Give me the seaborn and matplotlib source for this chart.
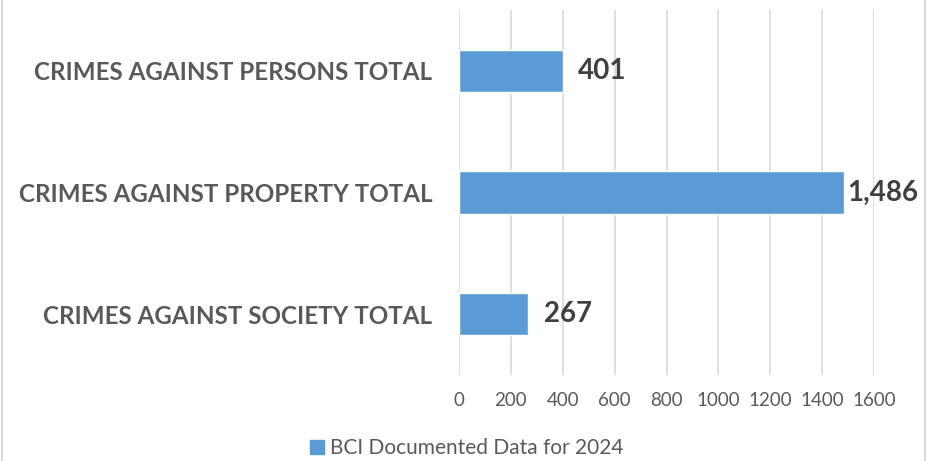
import matplotlib.pyplot as plt
import matplotlib.patches as mpatches
import matplotlib.lines as mlines
import seaborn as sns
import pandas as pd

categories = ['CRIMES AGAINST PERSONS TOTAL',
              'CRIMES AGAINST PROPERTY TOTAL',
              'CRIMES AGAINST SOCIETY TOTAL']
values = [401, 1486, 267]
series_name = 'BCI Documented Data for 2024'
x_ticks = [0, 200, 400, 600, 800, 1000, 1200, 1400, 1600]

df = pd.DataFrame({'category': categories, 'value': values, 'series': series_name})

sns.set_theme(style='white')
plt.rcParams['font.family'] = ['Lato', 'DejaVu Sans']

fig = plt.figure(figsize=(9.41, 4.61), dpi=100)
ax = fig.add_axes([459 / 941, 1 - 375 / 461, 415 / 941, 365 / 461])

sns.barplot(data=df, x='value', y='category', hue='series', orient='h',
            palette=['#5B9BD5'], saturation=1, width=0.35, ax=ax, legend=False)

ax.set_xlim(0, 1600)
ax.set_xticks(x_ticks)
ax.set_xticklabels([str(t) for t in x_ticks])
ax.grid(axis='x', color='#D9D9D9', linewidth=1.2)
ax.set_axisbelow(True)
for s in ax.spines.values():
    s.set_visible(False)
ax.set_xlabel('')
ax.set_ylabel('')
ax.tick_params(axis='x', length=0, pad=12, labelsize=13.5, labelcolor='#595959')
ax.tick_params(axis='y', length=0, pad=19)
for lbl in ax.get_yticklabels():
    lbl.set_fontsize(17.4)
    lbl.set_fontweight('bold')
    lbl.set_color('#595959')

for cont in ax.containers:
    anns = ax.bar_label(cont, labels=[f'{v:,}' for v in values], padding=11,
                        fontsize=20, fontweight='bold', color='#404040')
    # the longest label is pulled in so it stays inside the chart
    for ann, v in zip(anns, values):
        if v == max(values):
            ann.xyann = (2, 0)

handle = mpatches.Patch(color='#5B9BD5', label=series_name)
fig.legend(handles=[handle], loc='lower center', bbox_to_anchor=(0.496, -0.035),
           frameon=False, fontsize=15, labelcolor='#595959',
           handlelength=0.65, handleheight=0.65, handletextpad=0.3)

for xf in (1.5 / 941, 925 / 941):
    fig.add_artist(mlines.Line2D([xf, xf], [0, 1], transform=fig.transFigure,
                                 color='#D9D9D9', linewidth=1.5))

fig.savefig('out.png', dpi=100)
